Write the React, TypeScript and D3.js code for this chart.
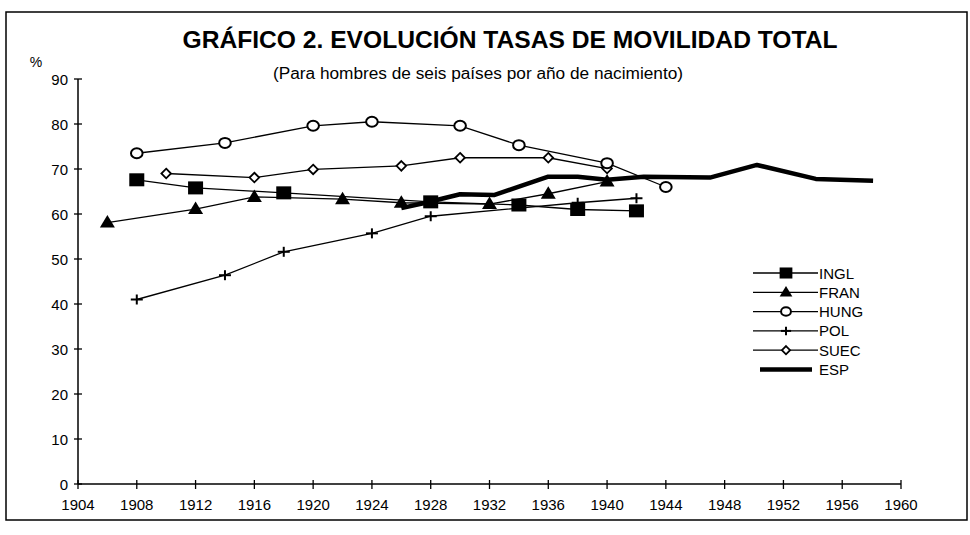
import React from "react";
import * as d3 from "d3";

const W = 970;
const H = 535;

const xTicks = [1904, 1908, 1912, 1916, 1920, 1924, 1928, 1932, 1936, 1940, 1944, 1948, 1952, 1956, 1960];
const yTicks = [0, 10, 20, 30, 40, 50, 60, 70, 80, 90];

const inglYears = [1908, 1912, 1918, 1928, 1934, 1938, 1942];
const inglValues = [67.6, 65.8, 64.7, 62.7, 62.0, 61.0, 60.7];

const franYears = [1906, 1912, 1916, 1922, 1926, 1932, 1936, 1940];
const franValues = [58.1, 61.1, 63.8, 63.3, 62.5, 62.2, 64.5, 67.2];

const hungYears = [1908, 1914, 1920, 1924, 1930, 1934, 1940, 1944];
const hungValues = [73.5, 75.8, 79.6, 80.5, 79.6, 75.3, 71.3, 66.0];

const polYears = [1908, 1914, 1918, 1924, 1928, 1938, 1942];
const polValues = [41.0, 46.4, 51.6, 55.7, 59.5, 62.5, 63.5];

const suecYears = [1910, 1916, 1920, 1926, 1930, 1936, 1940];
const suecValues = [69.0, 68.1, 69.9, 70.7, 72.5, 72.5, 70.1];

const espYears = [1926, 1927.5, 1930, 1932.3, 1934, 1936, 1938, 1940, 1942.5, 1947, 1950.2, 1954.2, 1958.1];
const espValues = [61.3, 62.4, 64.4, 64.2, 66.1, 68.3, 68.3, 67.6, 68.3, 68.1, 70.9, 67.8, 67.4];

const legendLabels = ["INGL", "FRAN", "HUNG", "POL", "SUEC", "ESP"];

const FONT = "'Liberation Sans', Arial, Helvetica, sans-serif";

type Kind = "square" | "triangle" | "circle" | "cross" | "diamond" | "none";

function Marker({ kind, x, y, s = 1 }: { kind: Kind; x: number; y: number; s?: number }) {
  if (kind === "square") {
    return <rect x={x - 7.5 * s} y={y - 6.5 * s} width={15 * s} height={13 * s} fill="#000" />;
  }
  if (kind === "triangle") {
    const w = 7.5 * s;
    const h = 12.5 * s;
    return <path d={`M${x},${y - h * 0.6} L${x + w},${y + h * 0.4} L${x - w},${y + h * 0.4} Z`} fill="#000" />;
  }
  if (kind === "circle") {
    return <ellipse cx={x} cy={y} rx={5.8 * s} ry={5 * s} fill="#fff" stroke="#000" strokeWidth={2} />;
  }
  if (kind === "cross") {
    return (
      <g stroke="#000" strokeWidth={2}>
        <line x1={x - 6 * s} x2={x + 6 * s} y1={y} y2={y} />
        <line x1={x} x2={x} y1={y - 5 * s} y2={y + 5 * s} />
      </g>
    );
  }
  if (kind === "diamond") {
    const r = 4.8 * s;
    return <path d={`M${x},${y - r} L${x + r},${y} L${x},${y + r} L${x - r},${y} Z`} fill="#fff" stroke="#000" strokeWidth={1.8} />;
  }
  return null;
}

export default function App() {
  const x = d3.scaleLinear().domain([1904, 1960]).range([78, 901]);
  const y = d3.scaleLinear().domain([0, 90]).range([484, 79]);

  const line = d3
    .line<[number, number]>()
    .x((d) => x(d[0]))
    .y((d) => y(d[1]));

  const series: { years: number[]; values: number[]; kind: Kind }[] = [
    { years: polYears, values: polValues, kind: "cross" },
    { years: suecYears, values: suecValues, kind: "diamond" },
    { years: hungYears, values: hungValues, kind: "circle" },
    { years: franYears, values: franValues, kind: "triangle" },
    { years: inglYears, values: inglValues, kind: "square" },
  ];

  const espPts = espYears.map((yr, i) => [yr, espValues[i]] as [number, number]);

  const legendKinds: Kind[] = ["square", "triangle", "circle", "cross", "diamond", "none"];
  const legendY0 = 273;
  const legendStep = 19.3;

  return (
    <svg
      width={W}
      height={H}
      style={{ position: "absolute", left: 0, top: 0, background: "#fff" }}
      fontFamily={FONT}
    >
      <rect x={0} y={0} width={W} height={H} fill="#fff" />
      <rect x={6} y={12} width={961} height={508} fill="none" stroke="#000" strokeWidth={1.5} />

      <text x={510} y={48} textAnchor="middle" fontSize={24} fontWeight="bold" textLength={655} lengthAdjust="spacingAndGlyphs">
        GRÁFICO 2. EVOLUCIÓN TASAS DE MOVILIDAD TOTAL
      </text>
      <text x={478} y={79} textAnchor="middle" fontSize={16} textLength={410} lengthAdjust="spacingAndGlyphs">
        (Para hombres de seis países por año de nacimiento)
      </text>
      <text x={36} y={67} textAnchor="middle" fontSize={14}>
        %
      </text>

      {/* axes */}
      <line x1={x(1904)} x2={x(1904)} y1={y(90)} y2={y(0)} stroke="#000" strokeWidth={1.5} />
      <line x1={x(1904)} x2={x(1960)} y1={y(0)} y2={y(0)} stroke="#000" strokeWidth={1.5} />
      {yTicks.map((t) => (
        <g key={"y" + t}>
          <line x1={x(1904) - 4} x2={x(1904) + 4} y1={y(t)} y2={y(t)} stroke="#000" strokeWidth={1.3} />
          <text x={68} y={y(t) + 5.5} textAnchor="end" fontSize={15}>
            {t}
          </text>
        </g>
      ))}
      {xTicks.map((t) => (
        <g key={"x" + t}>
          <line x1={x(t)} x2={x(t)} y1={y(0) - 4} y2={y(0) + 5} stroke="#000" strokeWidth={1.3} />
          <text x={x(t)} y={510} textAnchor="middle" fontSize={15}>
            {t}
          </text>
        </g>
      ))}

      {/* ESP thick line */}
      <path d={line(espPts) || ""} fill="none" stroke="#000" strokeWidth={4.5} strokeLinejoin="round" />

      {series.map((s, si) => {
        const pts = s.years.map((yr, i) => [yr, s.values[i]] as [number, number]);
        return (
          <g key={"s" + si}>
            <path d={line(pts) || ""} fill="none" stroke="#000" strokeWidth={1.3} />
            {pts.map((p, i) => (
              <Marker key={i} kind={s.kind} x={x(p[0])} y={y(p[1])} />
            ))}
          </g>
        );
      })}

      {/* legend */}
      {legendLabels.map((lab, i) => {
        const ly = legendY0 + i * legendStep;
        const kind = legendKinds[i];
        return (
          <g key={"l" + lab}>
            {kind === "none" ? (
              <line x1={760} x2={812} y1={ly} y2={ly} stroke="#000" strokeWidth={4.5} />
            ) : (
              <>
                <line x1={753} x2={818} y1={ly} y2={ly} stroke="#000" strokeWidth={1.3} />
                <Marker kind={kind} x={786} y={ly} s={0.85} />
              </>
            )}
            <text x={819} y={ly + 5.5} fontSize={15}>
              {lab}
            </text>
          </g>
        );
      })}
    </svg>
  );
}
